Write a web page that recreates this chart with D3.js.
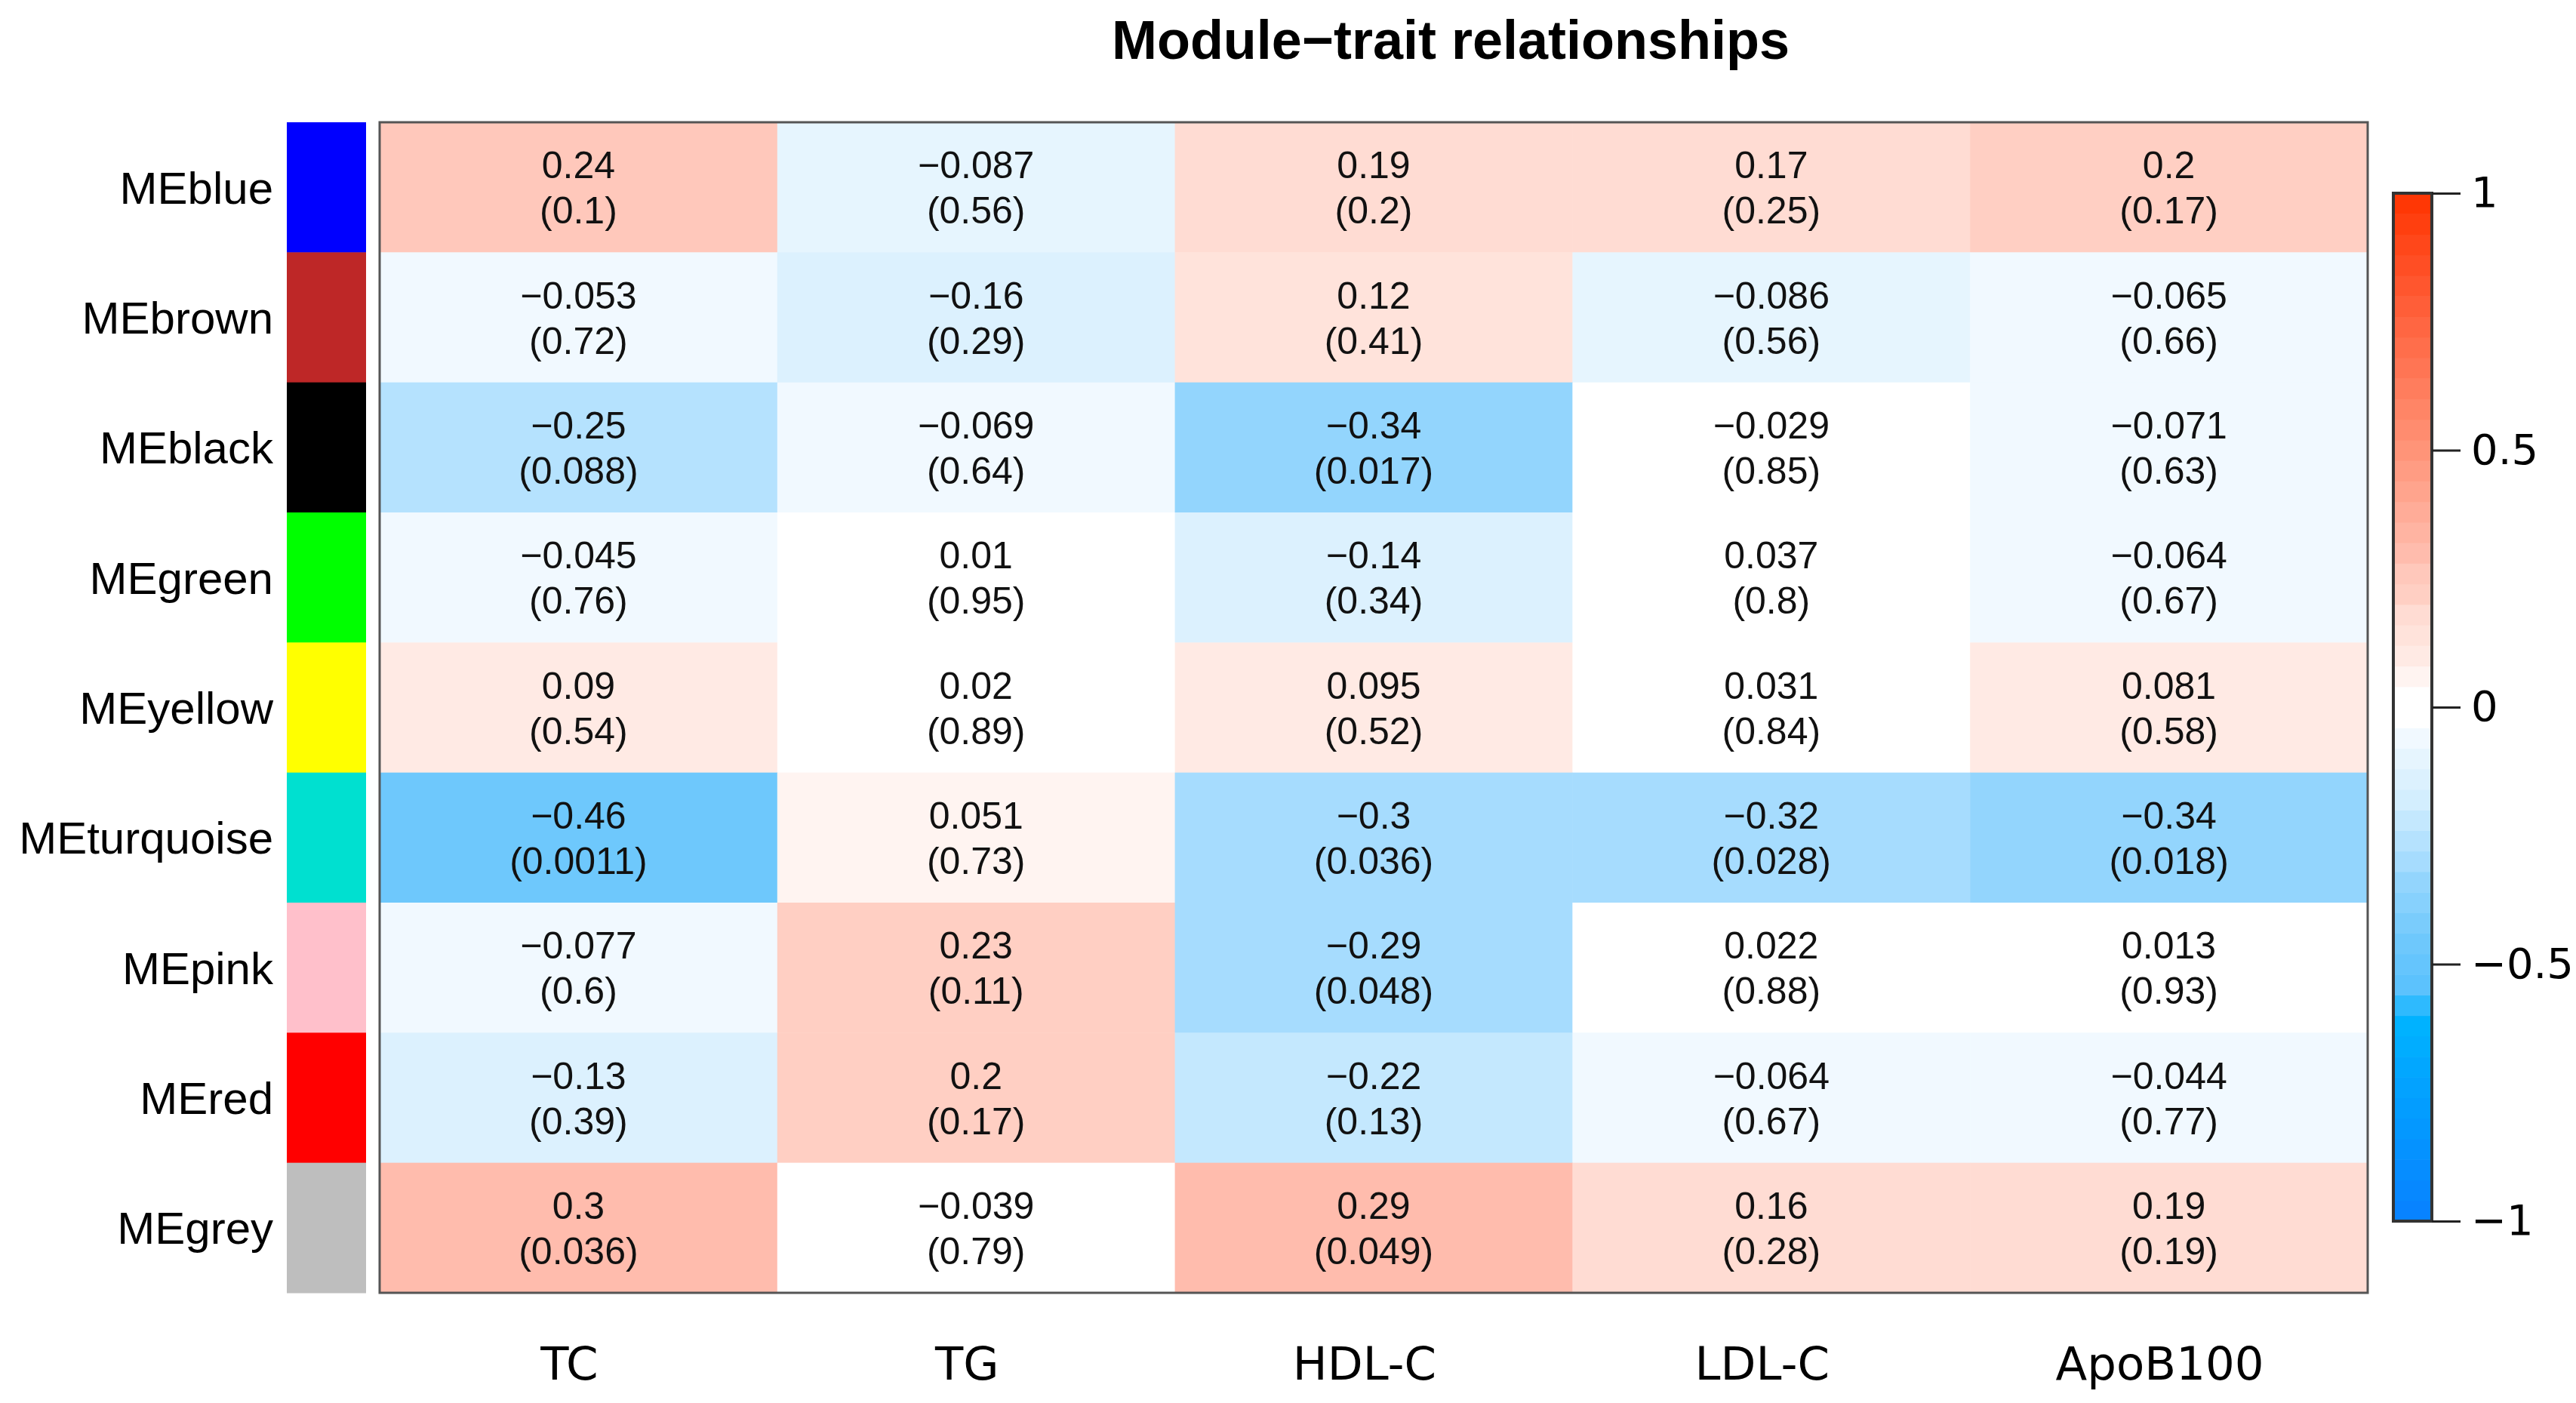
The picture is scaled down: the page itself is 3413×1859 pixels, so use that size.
<!DOCTYPE html>
<html>
<head>
<meta charset="utf-8">
<script src="https://cdn.jsdelivr.net/npm/d3@7"></script>
<style>
  html, body { margin: 0; padding: 0; background: #fff; }
  svg { display: block; }
</style>
</head>
<body>
<svg id="chart" width="3413" height="1859"></svg>
<script>
// ---------------- data ----------------
const modules = ["MEblue", "MEbrown", "MEblack", "MEgreen", "MEyellow", "MEturquoise", "MEpink", "MEred", "MEgrey"];
const moduleColors = ["#0000FF", "#BE2727", "#000000", "#00FF00", "#FFFF00", "#00E0D0", "#FFC0CB", "#FF0000", "#BEBEBE"];
const traits = ["TC", "TG", "HDL-C", "LDL-C", "ApoB100"];

const corBlue      = [0.24, -0.087, 0.19, 0.17, 0.2];
const corBrown     = [-0.053, -0.16, 0.12, -0.086, -0.065];
const corBlack     = [-0.25, -0.069, -0.34, -0.029, -0.071];
const corGreen     = [-0.045, 0.01, -0.14, 0.037, -0.064];
const corYellow    = [0.09, 0.02, 0.095, 0.031, 0.081];
const corTurquoise = [-0.46, 0.051, -0.3, -0.32, -0.34];
const corPink      = [-0.077, 0.23, -0.29, 0.022, 0.013];
const corRed       = [-0.13, 0.2, -0.22, -0.064, -0.044];
const corGrey      = [0.3, -0.039, 0.29, 0.16, 0.19];

const pBlue      = ["0.1", "0.56", "0.2", "0.25", "0.17"];
const pBrown     = ["0.72", "0.29", "0.41", "0.56", "0.66"];
const pBlack     = ["0.088", "0.64", "0.017", "0.85", "0.63"];
const pGreen     = ["0.76", "0.95", "0.34", "0.8", "0.67"];
const pYellow    = ["0.54", "0.89", "0.52", "0.84", "0.58"];
const pTurquoise = ["0.0011", "0.73", "0.036", "0.028", "0.018"];
const pPink      = ["0.6", "0.11", "0.048", "0.88", "0.93"];
const pRed       = ["0.39", "0.17", "0.13", "0.67", "0.77"];
const pGrey      = ["0.036", "0.79", "0.049", "0.28", "0.19"];

const corRows = [corBlue, corBrown, corBlack, corGreen, corYellow, corTurquoise, corPink, corRed, corGrey];
const pRows   = [pBlue, pBrown, pBlack, pGreen, pYellow, pTurquoise, pPink, pRed, pGrey];

const legendTicks = [-1, -0.5, 0, 0.5, 1];

// palette stops (blue-white-red)
const stopValues = [-1.00, -0.62, -0.54, -0.46, -0.34, -0.30, -0.26, -0.22, -0.18, -0.14, -0.10, -0.06, -0.02, 0.02, 0.06, 0.10, 0.14, 0.18, 0.22, 0.26, 0.30, 0.50, 0.75, 1.00];
const stopColors = ["#0880FF", "#00B2FF", "#5CC2FD", "#6EC8FC", "#93D5FD", "#A6DCFE", "#B5E2FE", "#C4E8FE", "#D3EEFE", "#DCF1FE", "#E6F5FE", "#F1F9FF", "#FFFFFF", "#FFFFFF", "#FFF4F1", "#FFEAE4", "#FFE3DB", "#FFDCD3", "#FFCFC3", "#FFC8BB", "#FFBCAD", "#FF9478", "#FF6440", "#FF3300"];

// ---------------- drawing ----------------
const svg = d3.select("#chart");
const nBins = 50;
const ramp = d3.scaleLinear().domain(stopValues).range(stopColors).interpolate(d3.interpolateRgb).clamp(true);
const binW = 2 / nBins;
function binCenter(v) {
  let i = Math.floor((v + 1) / binW + 1e-9);
  i = Math.max(0, Math.min(nBins - 1, i));
  return -1 + binW * (i + 0.5);
}
const colorOf = v => ramp(binCenter(v));
const fmt = s => String(s).replace("-", "\u2212");

const x = d3.scaleBand().domain(traits).range([503, 3137]);
const y = d3.scaleBand().domain(modules).range([162, 1713]);

const cells = [];
modules.forEach((m, i) => traits.forEach((t, j) => cells.push({ m, t, r: corRows[i][j], p: pRows[i][j] })));

// title
svg.append("text")
  .attr("x", 1922).attr("y", 78)
  .attr("text-anchor", "middle")
  .attr("font-family", "'Liberation Sans', Arial, sans-serif")
  .attr("font-weight", "bold")
  .attr("font-size", 72)
  .attr("fill", "#000")
  .text("Module\u2212trait relationships");

// module colour bar
svg.append("g").selectAll("rect").data(modules).join("rect")
  .attr("x", 380).attr("width", 105)
  .attr("y", d => y(d)).attr("height", y.bandwidth() + 0.5)
  .attr("fill", (d, i) => moduleColors[i]);

// row labels
svg.append("g").selectAll("text").data(modules).join("text")
  .attr("x", 362)
  .attr("y", d => y(d) + y.bandwidth() / 2)
  .attr("dy", "0.36em")
  .attr("text-anchor", "end")
  .attr("font-family", "'Liberation Sans', Arial, sans-serif")
  .attr("font-size", 60)
  .attr("fill", "#000")
  .text(d => d);

// heatmap cells
svg.append("g").selectAll("rect").data(cells).join("rect")
  .attr("x", d => x(d.t)).attr("y", d => y(d.m))
  .attr("width", x.bandwidth() + 0.5).attr("height", y.bandwidth() + 0.5)
  .attr("fill", d => colorOf(d.r));

// heatmap border
svg.append("rect")
  .attr("x", 503).attr("y", 162)
  .attr("width", 3137 - 503).attr("height", 1713 - 162)
  .attr("fill", "none").attr("stroke", "#555").attr("stroke-width", 3);

// cell texts
const tg = svg.append("g")
  .attr("font-family", "'Liberation Sans', Arial, sans-serif")
  .attr("font-size", 50)
  .attr("fill", "#111")
  .attr("text-anchor", "middle");
const cellText = tg.selectAll("g").data(cells).join("g")
  .attr("transform", d => `translate(${x(d.t) + x.bandwidth() / 2},${y(d.m) + y.bandwidth() / 2})`);
cellText.append("text").attr("y", -12).text(d => fmt(d.r));
cellText.append("text").attr("y", 48).text(d => "(" + d.p + ")");

// x labels
svg.append("g").selectAll("text").data(traits).join("text")
  .attr("x", d => x(d) + x.bandwidth() / 2 - 12)
  .attr("y", 1828)
  .attr("text-anchor", "middle")
  .attr("font-family", "'DejaVu Sans', Verdana, sans-serif")
  .attr("font-size", 61)
  .attr("fill", "#000")
  .text(d => d);

// colour legend
const cb = d3.scaleLinear().domain([-1, 1]).range([1618, 256]);
const legendBins = d3.range(nBins).map(i => -1 + binW * i);
svg.append("g").selectAll("rect").data(legendBins).join("rect")
  .attr("x", 3171).attr("width", 51)
  .attr("y", d => cb(d + binW)).attr("height", d => cb(d) - cb(d + binW) + 0.6)
  .attr("fill", d => ramp(d + binW / 2));
svg.append("rect")
  .attr("x", 3171).attr("y", 256).attr("width", 51).attr("height", 1618 - 256)
  .attr("fill", "none").attr("stroke", "#333").attr("stroke-width", 4);

const axis = d3.axisRight(cb).tickValues(legendTicks).tickSize(38).tickPadding(14)
  .tickFormat(d => fmt(d));
const ag = svg.append("g").attr("transform", "translate(3222,0)").call(axis);
ag.select(".domain").remove();
ag.selectAll(".tick line").attr("stroke", "#222").attr("stroke-width", 3);
ag.selectAll(".tick text")
  .attr("font-family", "'DejaVu Sans', Verdana, sans-serif")
  .attr("font-size", 56)
  .attr("fill", "#000");
</script>
</body>
</html>
